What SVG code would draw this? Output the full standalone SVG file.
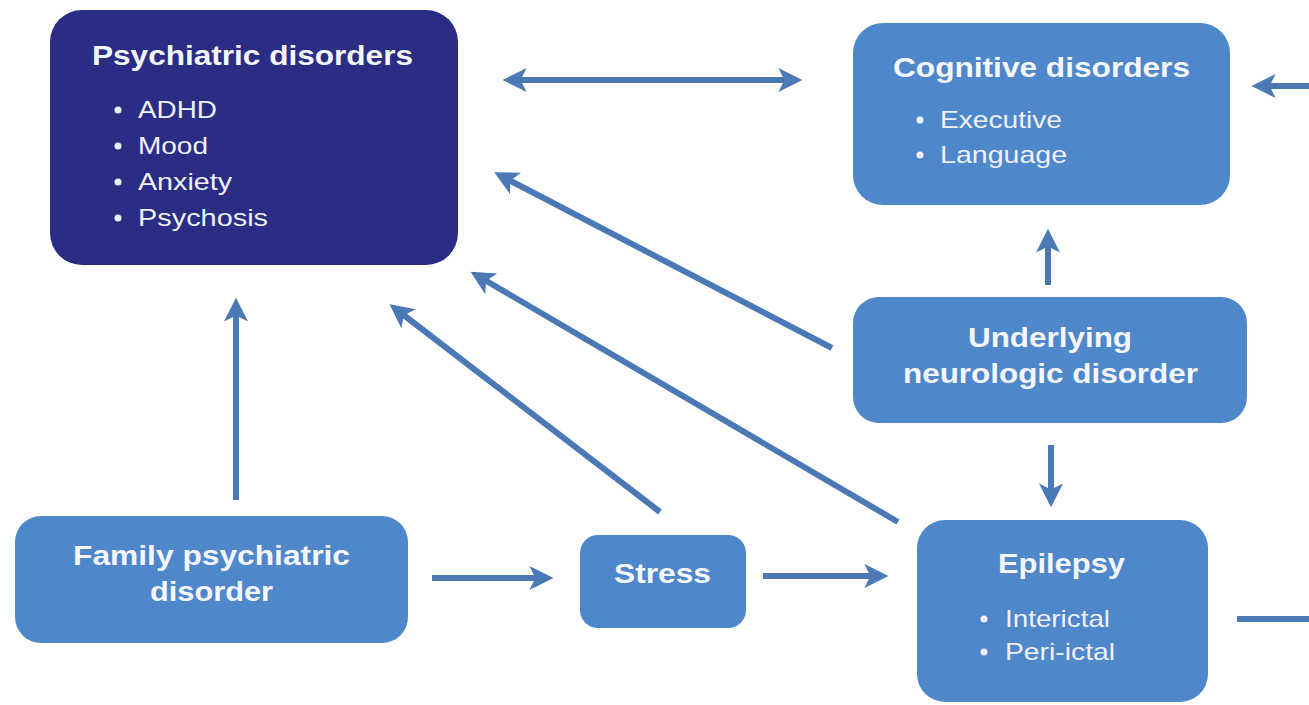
<svg xmlns="http://www.w3.org/2000/svg" width="1309" height="705" viewBox="0 0 1309 705">
<defs>
<style>
.node{fill:#4f87cb;}
.dark{fill:#2b2d85;}
.t{font-family:"Liberation Sans",Arial,sans-serif;font-weight:bold;font-size:28px;fill:#f4f6fb;}
.b{font-family:"Liberation Sans",Arial,sans-serif;font-size:24px;fill:#eef1f8;}
.dot{fill:#eef1f8;}
.c{fill:none;stroke:#4a79b6;stroke-width:6;marker-end:url(#ah);}
</style>
<marker id="ah" viewBox="0 0 10 10" refX="4" refY="5" markerWidth="4" markerHeight="4" markerUnits="strokeWidth" orient="auto-start-reverse">
<path d="M0,0 L10,5 L0,10 L2.5,5 z" fill="#4a79b6"/>
</marker>
</defs>
<rect width="1309" height="705" fill="#ffffff"/>

<g id="connectors">
<path class="c" d="M517,80 H788" marker-start="url(#ah)"/>
<path class="c" d="M1237,619 H1316 V86 H1266"/>
<path class="c" d="M1048,285 V243"/>
<path class="c" d="M1051,445 V493"/>
<path class="c" d="M832,348 L507,179"/>
<path class="c" d="M898,522 L483,279"/>
<path class="c" d="M660,512 L401,313"/>
<path class="c" d="M236,500 V312"/>
<path class="c" d="M432,578 H539"/>
<path class="c" d="M763,576 H874"/>
</g>

<g id="psychiatric">
<rect class="dark" x="50" y="10" width="408" height="255" rx="32"/>
<text class="t" x="92" y="65" textLength="321" lengthAdjust="spacingAndGlyphs">Psychiatric disorders</text>
<circle class="dot" cx="118" cy="110" r="3.5"/>
<circle class="dot" cx="118" cy="146" r="3.5"/>
<circle class="dot" cx="118" cy="182" r="3.5"/>
<circle class="dot" cx="118" cy="218" r="3.5"/>
<text class="b" x="138" y="118" textLength="79" lengthAdjust="spacingAndGlyphs">ADHD</text>
<text class="b" x="138" y="154" textLength="70" lengthAdjust="spacingAndGlyphs">Mood</text>
<text class="b" x="138" y="190" textLength="94" lengthAdjust="spacingAndGlyphs">Anxiety</text>
<text class="b" x="138" y="226" textLength="130" lengthAdjust="spacingAndGlyphs">Psychosis</text>
</g>

<g id="cognitive">
<rect class="node" x="853" y="23" width="377" height="182" rx="30"/>
<text class="t" x="893" y="77" textLength="297" lengthAdjust="spacingAndGlyphs">Cognitive disorders</text>
<circle class="dot" cx="920" cy="120" r="3.5"/>
<circle class="dot" cx="920" cy="155" r="3.5"/>
<text class="b" x="940" y="128" textLength="122" lengthAdjust="spacingAndGlyphs">Executive</text>
<text class="b" x="940" y="163" textLength="127" lengthAdjust="spacingAndGlyphs">Language</text>
</g>

<g id="underlying">
<rect class="node" x="853" y="297" width="394" height="126" rx="26"/>
<text class="t" x="968" y="347" textLength="164" lengthAdjust="spacingAndGlyphs">Underlying</text>
<text class="t" x="903" y="383" textLength="295" lengthAdjust="spacingAndGlyphs">neurologic disorder</text>
</g>

<g id="epilepsy">
<rect class="node" x="917" y="520" width="291" height="182" rx="28"/>
<text class="t" x="998" y="573" textLength="127" lengthAdjust="spacingAndGlyphs">Epilepsy</text>
<circle class="dot" cx="984" cy="619" r="3.5"/>
<circle class="dot" cx="984" cy="652" r="3.5"/>
<text class="b" x="1005" y="627" textLength="105" lengthAdjust="spacingAndGlyphs">Interictal</text>
<text class="b" x="1005" y="660" textLength="110" lengthAdjust="spacingAndGlyphs">Peri-ictal</text>
</g>

<g id="family">
<rect class="node" x="15" y="516" width="393" height="127" rx="26"/>
<text class="t" x="73" y="565" textLength="277" lengthAdjust="spacingAndGlyphs">Family psychiatric</text>
<text class="t" x="150" y="601" textLength="123" lengthAdjust="spacingAndGlyphs">disorder</text>
</g>

<g id="stress">
<rect class="node" x="580" y="535" width="166" height="93" rx="18"/>
<text class="t" x="614" y="583" textLength="97" lengthAdjust="spacingAndGlyphs">Stress</text>
</g>
</svg>
